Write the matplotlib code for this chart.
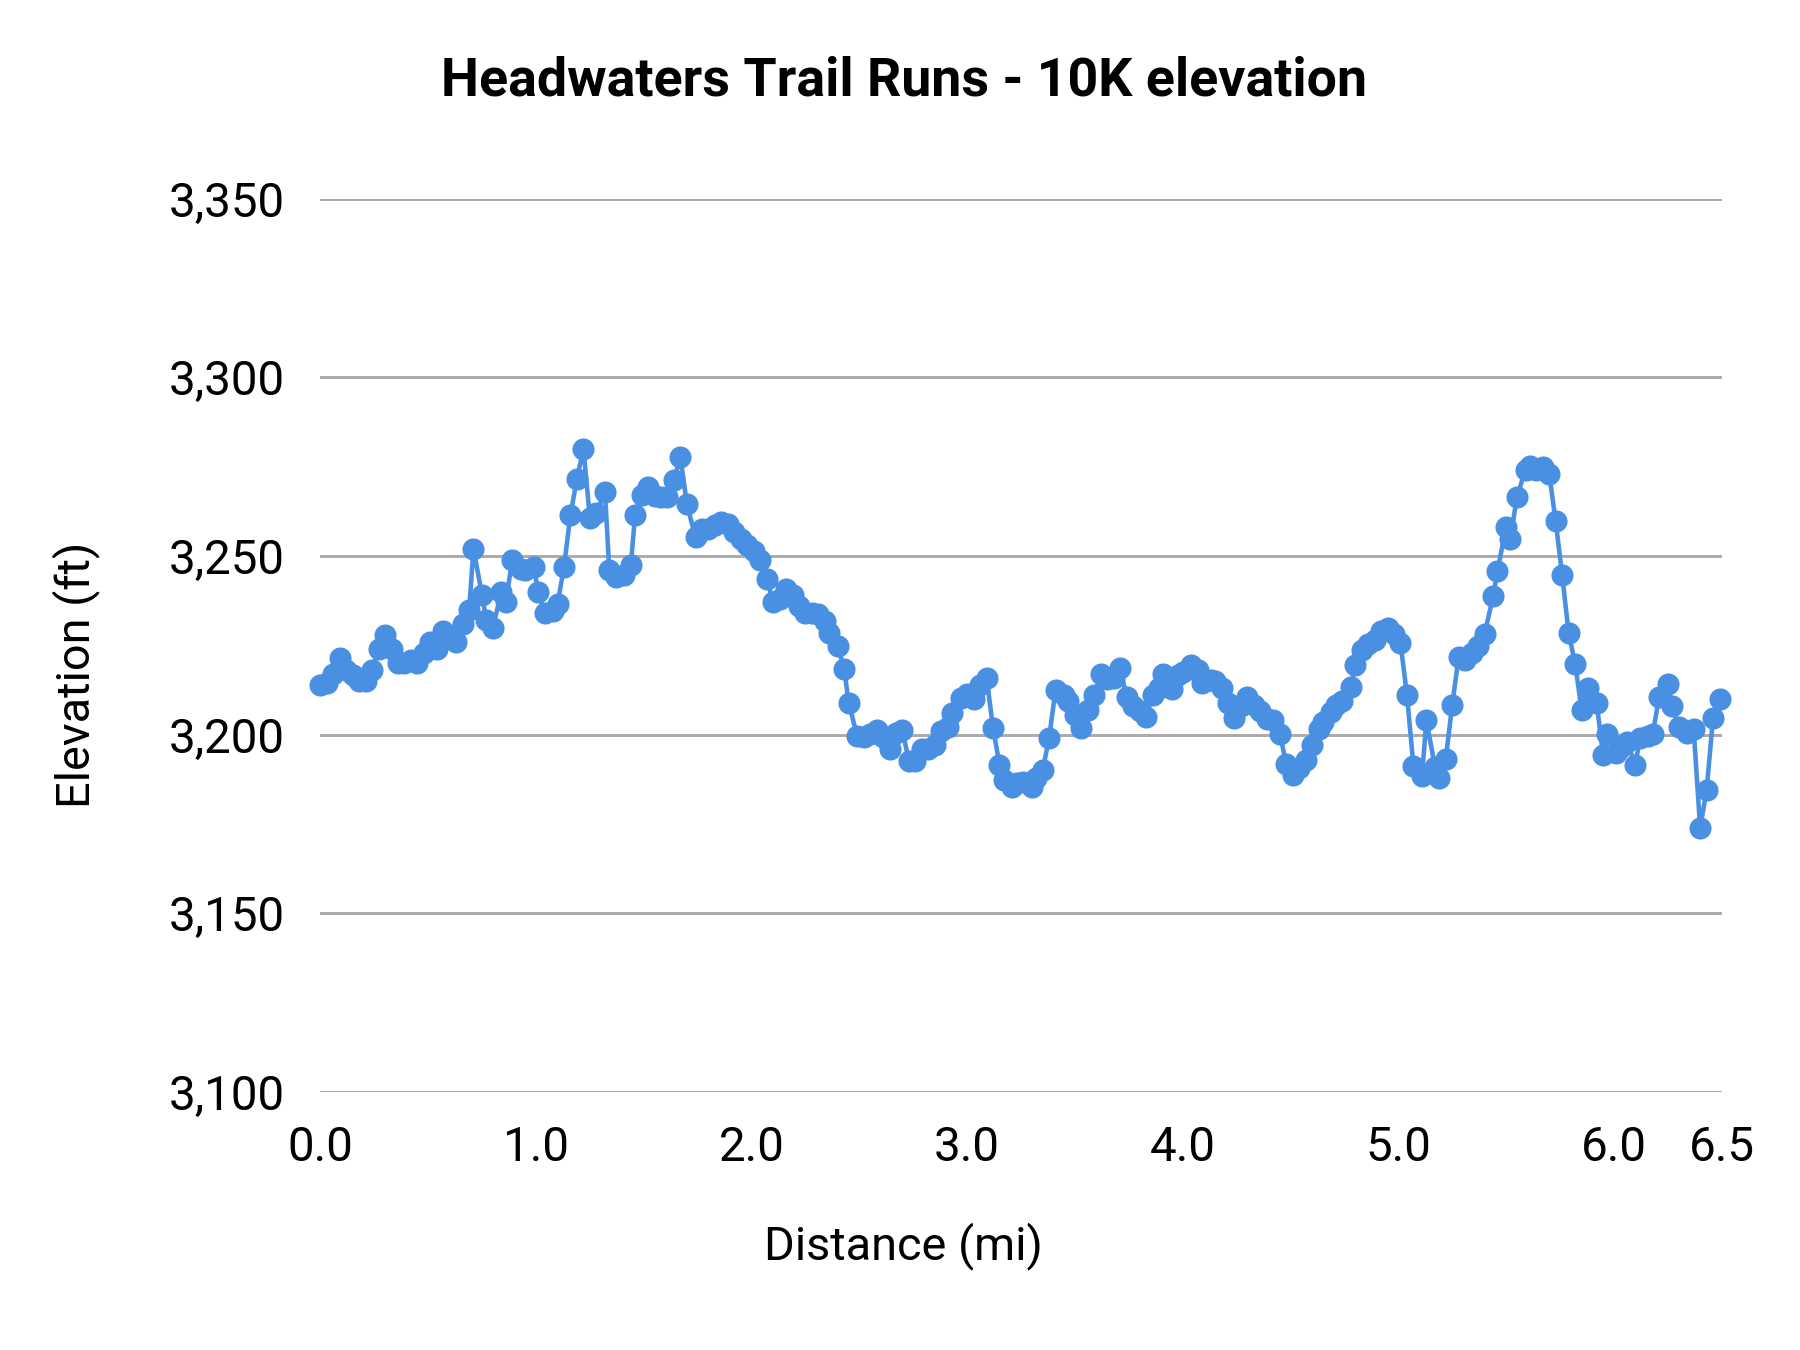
import matplotlib
matplotlib.use("Agg")
import matplotlib.pyplot as plt
from matplotlib.ticker import FuncFormatter

plt.rcParams['font.family'] = ['Roboto', 'DejaVu Sans']

title = "Headwaters Trail Runs - 10K elevation"
x_label = "Distance (mi)"
y_label = "Elevation (ft)"

distance_mi = [
    0.00, 0.03, 0.06, 0.09, 0.12, 0.15, 0.18, 0.21, 0.24, 0.27,
    0.30, 0.33, 0.36, 0.39, 0.42, 0.45, 0.48, 0.51, 0.54, 0.57,
    0.60, 0.63, 0.66, 0.69, 0.71, 0.75, 0.77, 0.80, 0.84, 0.86,
    0.89, 0.93, 0.95, 0.99, 1.01, 1.04, 1.08, 1.10, 1.13, 1.16,
    1.19, 1.22, 1.25, 1.28, 1.32, 1.34, 1.37, 1.41, 1.44, 1.46,
    1.49, 1.52, 1.55, 1.58, 1.61, 1.64, 1.67, 1.70, 1.74, 1.77,
    1.80, 1.83, 1.86, 1.89, 1.92, 1.95, 1.98, 2.01, 2.04, 2.07,
    2.10, 2.13, 2.16, 2.19, 2.22, 2.25, 2.28, 2.31, 2.34, 2.36,
    2.40, 2.43, 2.45, 2.49, 2.52, 2.55, 2.58, 2.61, 2.64, 2.67,
    2.70, 2.73, 2.76, 2.79, 2.82, 2.85, 2.88, 2.91, 2.93, 2.97,
    3.00, 3.03, 3.06, 3.09, 3.12, 3.15, 3.17, 3.21, 3.23, 3.26,
    3.30, 3.32, 3.35, 3.38, 3.41, 3.45, 3.47, 3.50, 3.53, 3.56,
    3.59, 3.62, 3.65, 3.68, 3.71, 3.74, 3.77, 3.80, 3.83, 3.86,
    3.89, 3.91, 3.95, 3.98, 4.00, 4.04, 4.07, 4.09, 4.13, 4.15,
    4.18, 4.21, 4.24, 4.27, 4.30, 4.33, 4.36, 4.39, 4.42, 4.45,
    4.48, 4.51, 4.54, 4.57, 4.60, 4.63, 4.65, 4.69, 4.71, 4.74,
    4.78, 4.80, 4.83, 4.86, 4.89, 4.92, 4.95, 4.98, 5.01, 5.04,
    5.07, 5.11, 5.13, 5.17, 5.19, 5.22, 5.25, 5.28, 5.31, 5.34,
    5.37, 5.40, 5.44, 5.46, 5.50, 5.52, 5.55, 5.59, 5.61, 5.64,
    5.67, 5.70, 5.73, 5.76, 5.79, 5.82, 5.85, 5.88, 5.92, 5.95,
    5.97, 6.01, 6.03, 6.06, 6.10, 6.12, 6.16, 6.18, 6.21, 6.25,
    6.27, 6.30, 6.34, 6.37, 6.40, 6.43, 6.46, 6.49,
]

elevation_ft = [
    3214.0, 3214.5, 3217.0, 3221.5, 3218.0, 3216.7, 3215.0, 3215.0, 3218.0, 3224.0,
    3228.0, 3224.0, 3220.0, 3220.0, 3221.0, 3220.0, 3223.0, 3226.0, 3224.0, 3229.0,
    3227.0, 3226.0, 3231.0, 3235.0, 3252.0, 3239.0, 3232.0, 3230.0, 3240.0, 3237.0,
    3249.0, 3246.5, 3246.0, 3247.0, 3240.0, 3234.0, 3234.5, 3236.5, 3247.0, 3261.6,
    3271.6, 3280.0, 3260.7, 3262.0, 3268.0, 3246.0, 3244.0, 3244.6, 3247.5, 3261.6,
    3267.0, 3269.3, 3266.8, 3266.5, 3266.5, 3271.3, 3277.7, 3264.5, 3255.2, 3257.5,
    3257.5, 3258.7, 3259.4, 3259.0, 3256.8, 3254.9, 3253.0, 3251.3, 3249.0, 3243.6,
    3237.2, 3237.9, 3240.7, 3239.0, 3235.9, 3234.0, 3234.0, 3233.7, 3231.7, 3228.5,
    3224.7, 3218.3, 3209.0, 3199.6, 3199.3, 3200.3, 3201.2, 3199.3, 3196.1, 3200.6,
    3201.2, 3192.5, 3192.5, 3196.1, 3196.1, 3197.0, 3200.9, 3202.2, 3206.0, 3210.2,
    3211.5, 3209.9, 3213.8, 3216.0, 3201.9, 3191.6, 3187.4, 3185.5, 3186.4, 3186.8,
    3185.5, 3188.0, 3190.0, 3199.0, 3212.5, 3211.0, 3209.3, 3205.4, 3201.9, 3207.0,
    3211.0, 3217.0, 3215.7, 3216.0, 3218.6, 3210.5, 3208.0, 3206.7, 3205.0, 3211.0,
    3213.1, 3217.0, 3212.8, 3216.7, 3217.6, 3219.5, 3218.0, 3214.4, 3215.4, 3215.0,
    3213.0, 3209.0, 3204.8, 3208.0, 3210.5, 3208.3, 3206.7, 3204.4, 3204.1, 3200.3,
    3191.9, 3188.7, 3190.6, 3192.9, 3197.0, 3201.5, 3203.5, 3206.4, 3208.3, 3209.3,
    3213.4, 3219.5, 3223.7, 3225.3, 3226.6, 3228.9, 3229.8, 3228.2, 3225.6, 3211.2,
    3191.3, 3188.4, 3204.1, 3191.0, 3188.0, 3193.2, 3208.3, 3221.8, 3220.8, 3223.0,
    3224.7, 3228.2, 3238.8, 3245.9, 3258.1, 3254.9, 3266.5, 3274.2, 3275.1, 3274.2,
    3274.8, 3272.9, 3259.7, 3244.6, 3228.5, 3219.9, 3207.0, 3213.1, 3208.9, 3194.2,
    3200.3, 3194.8, 3196.4, 3198.0, 3191.6, 3199.0, 3199.6, 3200.3, 3210.5, 3214.1,
    3208.0, 3202.2, 3200.6, 3201.5, 3173.9, 3184.5, 3204.8, 3209.9,
]

x_ticks = [0.0, 1.0, 2.0, 3.0, 4.0, 5.0, 6.0, 6.5]
y_ticks = [3100, 3150, 3200, 3250, 3300, 3350]

line_color = "#4A90E2"
grid_color = "#ABABAB"

fig = plt.figure(figsize=(12, 9), dpi=150)
ax = fig.add_axes([0.178, 0.1911, 0.9565 - 0.178, 0.8528 - 0.1911])

ax.plot(distance_mi, elevation_ft, color=line_color, linewidth=2.2,
        marker='o', markersize=9.6, markerfacecolor=line_color,
        markeredgecolor=line_color, zorder=3, clip_on=False)

ax.set_xlim(0.0, 6.5)
ax.set_ylim(3100, 3350)
ax.set_xticks(x_ticks)
ax.set_yticks(y_ticks)
ax.xaxis.set_major_formatter(FuncFormatter(lambda v, p: f"{v:.1f}"))
ax.yaxis.set_major_formatter(FuncFormatter(lambda v, p: f"{int(round(v)):,}"))

ax.grid(axis='y', color=grid_color, linewidth=1.4, zorder=0)
ax.grid(axis='x', visible=False)
for s in ax.spines.values():
    s.set_visible(False)
ax.tick_params(axis='both', length=0, labelsize=22.8, colors='#000000')
ax.tick_params(axis='y', pad=17)
ax.tick_params(axis='x', pad=16)

fig.text(0.502, 0.929, title, ha='center', va='baseline',
         fontsize=25.8, fontweight='bold', color='#000000')
fig.text(0.502, 0.067, x_label, ha='center', va='baseline',
         fontsize=22.5, color='#000000')
fig.text(0.042, 0.5, y_label, ha='center', va='center', rotation=90,
         fontsize=22.5, color='#000000')

fig.savefig("out.png", dpi=150, facecolor='white')
